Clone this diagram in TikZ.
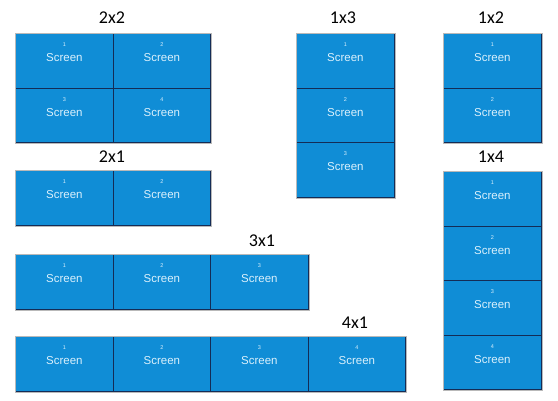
\documentclass[tikz,border=0pt]{standalone}
\usepackage{fontspec}
\setmainfont{Carlito}
\newfontfamily\arialf{Liberation Sans}
\definecolor{scrblue}{RGB}{16,141,214}
\definecolor{scrline}{RGB}{20,44,86}
\definecolor{scrtext}{RGB}{218,240,252}
\tikzset{
  cell/.style={rectangle, fill=scrblue, draw=scrline, line width=1.3pt,
    minimum width=97.5pt, minimum height=54.5pt, inner sep=0pt, anchor=north west},
  scrlabel/.style={text=scrtext, font=\arialf\fontsize{11.5}{13}\selectfont, inner sep=0pt},
  scrnum/.style={text=scrtext, font=\arialf\fontsize{5.5}{6}\selectfont, inner sep=0pt},
  ttl/.style={font=\fontsize{18}{20}\selectfont, inner sep=0pt, text=black},
  outer/.style={draw=gray!55, line width=0.6pt}
}
\newcommand{\scr}[4]{%
  \node[cell] (#1) at (#2,#3) {};
  \node[scrnum] (#1n) at ([yshift=-12pt]#1.north) {#4};
  \node[scrlabel] (#1s) at ([yshift=3pt]#1.center) {Screen};
}
\begin{document}
\begin{tikzpicture}[x=1pt,y=-1pt]
\useasboundingbox (0,0) rectangle (558,400);
% 2x2
\node[ttl] (t22) at (112,18) {2x2};
\scr{a1}{15}{33}{1}
\scr{a2}{112.5}{33}{2}
\scr{a3}{15}{87.5}{3}
\scr{a4}{112.5}{87.5}{4}
\draw[outer] (a1.north west) rectangle (a4.south east);
% 2x1
\node[ttl] (t21) at (112,157) {2x1};
\scr{b1}{15}{170}{1}
\scr{b2}{112.5}{170}{2}
\draw[outer] (b1.north west) rectangle (b2.south east);
% 3x1
\node[ttl] (t31) at (262,241) {3x1};
\scr{c1}{15}{254}{1}
\scr{c2}{112.5}{254}{2}
\scr{c3}{210}{254}{3}
\draw[outer] (c1.north west) rectangle (c3.south east);
% 4x1
\node[ttl] (t41) at (355,323) {4x1};
\scr{d1}{15}{336}{1}
\scr{d2}{112.5}{336}{2}
\scr{d3}{210}{336}{3}
\scr{d4}{307.5}{336}{4}
\draw[outer] (d1.north west) rectangle (d4.south east);
% 1x3
\node[ttl] (t13) at (343,18) {1x3};
\scr{e1}{296}{33}{1}
\scr{e2}{296}{87.5}{2}
\scr{e3}{296}{142}{3}
\draw[outer] (e1.north west) rectangle (e3.south east);
% 1x2
\node[ttl] (t12) at (491,18) {1x2};
\scr{f1}{443}{33}{1}
\scr{f2}{443}{87.5}{2}
\draw[outer] (f1.north west) rectangle (f2.south east);
% 1x4
\node[ttl] (t14) at (491,157) {1x4};
\scr{g1}{443}{171}{1}
\scr{g2}{443}{225.5}{2}
\scr{g3}{443}{280}{3}
\scr{g4}{443}{334.5}{4}
\draw[outer] (g1.north west) rectangle (g4.south east);
\end{tikzpicture}
\end{document}
